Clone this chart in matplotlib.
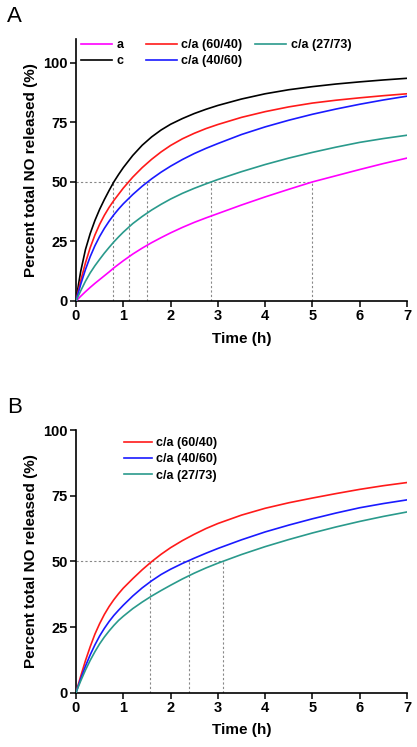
import matplotlib
matplotlib.use("Agg")
import matplotlib.pyplot as plt

# ---------------- data ----------------
time_h = [0, 0.05, 0.1, 0.2, 0.3, 0.4, 0.5, 0.6, 0.7, 0.8, 0.9, 1.0, 1.2, 1.4, 1.6, 1.8,
          2.0, 2.25, 2.5, 2.75, 3.0, 3.5, 4.0, 4.5, 5.0, 5.5, 6.0, 6.5, 7.0]

# Panel A
a_a     = [0, 1.0, 2.0, 3.9, 5.7, 7.4, 9.0, 10.6, 12.2, 13.9, 15.4, 16.9, 19.7, 22.2, 24.5, 26.6,
           28.6, 30.9, 33.0, 34.9, 36.7, 40.3, 43.7, 46.9, 50.0, 52.6, 55.2, 57.7, 60.0]
a_c     = [0, 6.6, 12.5, 21.6, 28.3, 33.8, 38.5, 42.6, 46.4, 50.0, 53.1, 56.0, 61.1, 65.4, 68.9, 71.8,
           74.2, 76.6, 78.7, 80.5, 82.1, 84.8, 87.0, 88.7, 90.0, 91.1, 92.0, 92.8, 93.5]
a_60_40 = [0, 4.4, 8.6, 16.0, 22.4, 27.7, 32.2, 36.0, 39.3, 42.2, 44.8, 47.4, 52.0, 56.0, 59.5, 62.6,
           65.3, 68.1, 70.4, 72.4, 74.1, 77.1, 79.5, 81.5, 83.1, 84.3, 85.3, 86.2, 87.0]
a_40_60 = [0, 3.6, 7.0, 13.2, 18.6, 23.2, 27.1, 30.5, 33.5, 36.2, 38.6, 40.8, 44.7, 48.2, 51.3, 54.1,
           56.6, 59.4, 61.9, 64.1, 66.1, 69.9, 73.1, 75.9, 78.4, 80.6, 82.6, 84.4, 86.0]
a_27_73 = [0, 2.2, 4.3, 8.3, 11.8, 14.8, 17.5, 20.1, 22.5, 24.8, 26.9, 28.9, 32.5, 35.5, 38.2, 40.6,
           42.8, 45.2, 47.3, 49.2, 51.0, 54.3, 57.3, 60.0, 62.4, 64.6, 66.6, 68.2, 69.6]
a_half_times = [0.78, 1.13, 1.5, 2.85, 5.0]

# Panel B
b_60_40 = [0, 3.2, 6.3, 12.2, 17.5, 22.3, 26.3, 29.8, 32.8, 35.4, 37.7, 39.8, 43.4, 46.8, 49.9, 52.7,
           55.2, 57.9, 60.3, 62.5, 64.4, 67.6, 70.2, 72.3, 74.1, 75.8, 77.4, 78.8, 80.0]
b_40_60 = [0, 2.7, 5.3, 10.1, 14.4, 18.2, 21.6, 24.5, 27.1, 29.4, 31.4, 33.3, 36.8, 39.9, 42.6, 45.0,
           47.0, 49.2, 51.2, 53.1, 54.9, 58.2, 61.2, 63.8, 66.2, 68.4, 70.4, 72.0, 73.4]
b_27_73 = [0, 2.3, 4.5, 8.6, 12.3, 15.6, 18.6, 21.2, 23.5, 25.6, 27.5, 29.1, 32.0, 34.5, 36.8, 38.9,
           40.9, 43.3, 45.5, 47.5, 49.3, 52.6, 55.6, 58.3, 60.8, 63.1, 65.2, 67.1, 68.8]
b_half_times = [1.57, 2.38, 3.11]

labels_A = ["a", "c", "c/a (60/40)", "c/a (40/60)", "c/a (27/73)"]
labels_B = ["c/a (60/40)", "c/a (40/60)", "c/a (27/73)"]
x_ticks = [0, 1, 2, 3, 4, 5, 6, 7]
y_ticks = [0, 25, 50, 75, 100]

# ---------------- style ----------------
plt.rcParams['font.family'] = ['Liberation Sans', 'DejaVu Sans']
C_MAG, C_BLK, C_RED, C_BLU, C_TEAL = "#ff00ff", "#000000", "#ff1a1a", "#1a1aff", "#2a9a8c"
REF = dict(color="#888888", lw=0.8, ls=(0, (2, 2)), zorder=1)

W, H = 417, 747
fig = plt.figure(figsize=(W / 100, H / 100), dpi=100)

def frame(ax, ymax):
    ax.set_xlim(0, 7)
    ax.set_ylim(0, ymax)
    ax.spines['top'].set_visible(False)
    ax.spines['right'].set_visible(False)
    for s in ('left', 'bottom'):
        ax.spines[s].set_linewidth(1.2)
    ax.set_xticks(x_ticks)
    ax.set_yticks(y_ticks)
    ax.tick_params(direction='out', length=4, width=1.1, labelsize=10.5, pad=2)
    for lbl in ax.get_xticklabels() + ax.get_yticklabels():
        lbl.set_fontweight('bold')
    ax.set_xlabel("Time (h)", fontsize=11, fontweight='bold', labelpad=6)
    ax.set_ylabel("Percent total NO released (%)", fontsize=11, fontweight='bold', labelpad=4)

LEG = dict(frameon=False, handletextpad=0.35, borderpad=0.0,
           borderaxespad=0.0, prop=dict(weight='bold', size=9))

# ---- Panel A ----
AW, AH = 331, 262
axA = fig.add_axes([76 / W, 1 - 301 / H, AW / W, AH / H])
frame(axA, 110)
axA.plot([0, max(a_half_times)], [50, 50], **REF)
for t in a_half_times:
    axA.plot([t, t], [0, 50], **REF)
for ys, c in zip([a_a, a_c, a_60_40, a_40_60, a_27_73], [C_MAG, C_BLK, C_RED, C_BLU, C_TEAL]):
    axA.plot(time_h, ys, color=c, lw=1.2, zorder=3)
hA = axA.get_lines()[-5:]
leg1 = axA.legend(hA[:4], labels_A[:4], ncol=2, loc='upper left', handlelength=2.5,
                  bbox_to_anchor=(5 / AW, 1.0), columnspacing=1.75, labelspacing=0.35, **LEG)
axA.add_artist(leg1)
axA.legend(hA[4:], labels_A[4:], loc='upper left', handlelength=2.5,
           bbox_to_anchor=((255 - 76) / AW, 1.0), labelspacing=0.35, **LEG)
fig.text(7 / W, 1 - 22 / H, "A", fontsize=16, ha='left', va='baseline')

# ---- Panel B ----
BW, BH = 331, 262.7
axB = fig.add_axes([76 / W, 1 - 692.7 / H, BW / W, BH / H])
frame(axB, 100)
axB.plot([0, max(b_half_times)], [50, 50], **REF)
for t in b_half_times:
    axB.plot([t, t], [0, 50], **REF)
for ys, c in zip([b_60_40, b_40_60, b_27_73], [C_RED, C_BLU, C_TEAL]):
    axB.plot(time_h, ys, color=c, lw=1.2, zorder=3)
hB = axB.get_lines()[-3:]
axB.legend(hB, labels_B, loc='upper left', handlelength=2.25,
           bbox_to_anchor=((124 - 76) / BW, 1 - 7 / BH), labelspacing=0.35, **LEG)
fig.text(7 / W, 1 - 413 / H, "B", fontsize=16, ha='left', va='baseline')

fig.savefig("out.png", dpi=100)
